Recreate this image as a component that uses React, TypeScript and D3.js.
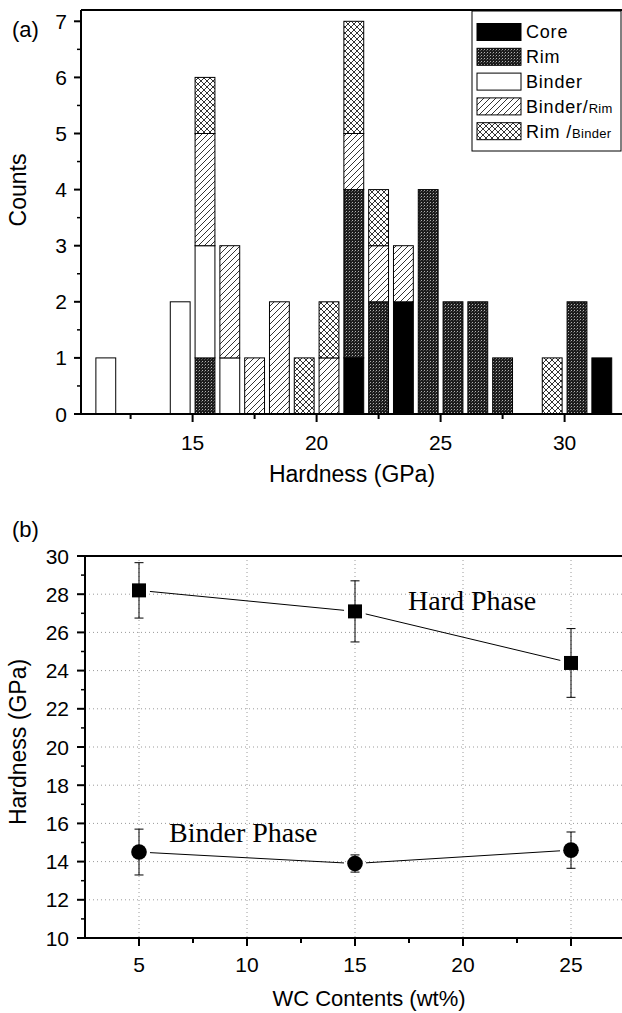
import * as React from "react";
import { scaleLinear, stack } from "d3";

// (a) histogram
const binCenters = [11.5, 14.5, 15.5, 16.5, 17.5, 18.5, 19.5, 20.5, 21.5, 22.5, 23.5, 24.5, 25.5, 26.5, 27.5, 29.5, 30.5, 31.5];
const coreCounts = [0, 0, 0, 0, 0, 0, 0, 0, 1, 0, 2, 0, 0, 0, 0, 0, 0, 1];
const rimCounts = [0, 0, 1, 0, 0, 0, 0, 0, 3, 2, 0, 4, 2, 2, 1, 0, 2, 0];
const binderCounts = [1, 2, 2, 1, 0, 0, 0, 0, 0, 0, 0, 0, 0, 0, 0, 0, 0, 0];
const binderRimCounts = [0, 0, 2, 2, 1, 2, 0, 1, 1, 1, 1, 0, 0, 0, 0, 0, 0, 0];
const rimBinderCounts = [0, 0, 1, 0, 0, 0, 1, 1, 2, 1, 0, 0, 0, 0, 0, 1, 0, 0];
const phaseKeys = ["core", "rim", "binder", "binderRim", "rimBinder"];
const countTicks = [0, 1, 2, 3, 4, 5, 6, 7];
const hardnessTicks = [15, 20, 25, 30];

// (b) hardness vs WC content
const wcContents = [5, 15, 25];
const hardPhase = [28.2, 27.1, 24.4];
const hardErr = [1.45, 1.6, 1.8];
const binderPhase = [14.5, 13.9, 14.6];
const binderErr = [1.2, 0.45, 0.95];
const hardnessTicksB = [10, 12, 14, 16, 18, 20, 22, 24, 26, 28, 30];
const wcTicks = [5, 10, 15, 20, 25];

const sans = "'Liberation Sans', Arial, sans-serif";
const serif = "'Liberation Serif', 'Times New Roman', serif";

const fills = {
    core: "#000",
    rim: "url(#pRim)",
    binder: "#fff",
    binderRim: "url(#pDiag)",
    rimBinder: "url(#pCross)"
};

function Histogram() {
    const x = scaleLinear().domain([10.5, 32.5]).range([81, 626.6]);
    const y = scaleLinear().domain([0, 7]).range([414, 21.3]);
    const rows = binCenters.map((c, i) => ({
        c,
        core: coreCounts[i],
        rim: rimCounts[i],
        binder: binderCounts[i],
        binderRim: binderRimCounts[i],
        rimBinder: rimBinderCounts[i]
    }));
    const layers = stack().keys(phaseKeys)(rows);
    const bw = x(0.8) - x(0);

    const minorY = [];
    for (let v = 0.5; v < 7.2; v += 1) minorY.push(v);
    const minorX = [12.5, 17.5, 22.5, 27.5];

    const legend = [
        { key: "core", label: "Core", sub: "" },
        { key: "rim", label: "Rim", sub: "" },
        { key: "binder", label: "Binder", sub: "" },
        { key: "binderRim", label: "Binder/", sub: "Rim" },
        { key: "rimBinder", label: "Rim /", sub: "Binder" }
    ];

    return (
        <g>
            {layers.map(layer => (
                <g key={layer.key} fill={fills[layer.key]} stroke="#000" strokeWidth={1}>
                    {layer.filter(d => d[1] > d[0]).map(d => (
                        <rect
                            key={d.data.c}
                            x={x(d.data.c) - bw / 2}
                            width={bw}
                            y={y(d[1])}
                            height={y(d[0]) - y(d[1])}
                        />
                    ))}
                </g>
            ))}
            {/* frame */}
            <line x1={81} x2={622} y1={10} y2={10} stroke="#000" strokeWidth={2} />
            <line x1={81} x2={81} y1={10} y2={415} stroke="#000" strokeWidth={2} />
            <line x1={74} x2={622} y1={414} y2={414} stroke="#000" strokeWidth={2} />
            {countTicks.map(t => (
                <g key={t}>
                    <line x1={74} x2={81} y1={y(t)} y2={y(t)} stroke="#000" strokeWidth={2} />
                    <text x={67} y={y(t)} dy="0.36em" textAnchor="end" fontSize={21} fontFamily={sans}>{t}</text>
                </g>
            ))}
            {minorY.map(t => (
                <line key={t} x1={77} x2={81} y1={y(t)} y2={y(t)} stroke="#000" strokeWidth={1.5} />
            ))}
            {hardnessTicks.map(t => (
                <g key={t}>
                    <line x1={x(t)} x2={x(t)} y1={414} y2={422} stroke="#000" strokeWidth={2} />
                    <text x={x(t)} y={450} textAnchor="middle" fontSize={21} fontFamily={sans}>{t}</text>
                </g>
            ))}
            {minorX.map(t => (
                <line key={t} x1={x(t)} x2={x(t)} y1={414} y2={419} stroke="#000" strokeWidth={2} />
            ))}
            <text x={352} y={482} textAnchor="middle" fontSize={23} fontFamily={sans}>Hardness (GPa)</text>
            <text transform="translate(26,190) rotate(-90)" textAnchor="middle" fontSize={23} fontFamily={sans}>Counts</text>
            <text x={12} y={37} fontSize={22} fontFamily={sans}>(a)</text>
            {/* legend */}
            <rect x={472} y={11} width={149} height={140} fill="#fff" stroke="#000" strokeWidth={1} />
            {legend.map((d, i) => {
                const cy = 32 + i * 24.8;
                return (
                    <g key={d.key}>
                        <rect x={477} y={cy - 8.5} width={44} height={17} fill={fills[d.key]} stroke="#000" strokeWidth={1} />
                        <text x={526} y={cy} dy="0.36em" fontSize={18} letterSpacing={0.8} fontFamily={sans}>
                            {d.label}
                            {d.sub && <tspan fontSize={13} letterSpacing={0.3}>{d.sub}</tspan>}
                        </text>
                    </g>
                );
            })}
        </g>
    );
}

function gapSegments(pts, gap) {
    const segs = [];
    for (let i = 0; i < pts.length - 1; i++) {
        const [x1, y1] = pts[i];
        const [x2, y2] = pts[i + 1];
        const dx = x2 - x1, dy = y2 - y1;
        const len = Math.sqrt(dx * dx + dy * dy);
        const ux = dx / len, uy = dy / len;
        segs.push([x1 + ux * gap, y1 + uy * gap, x2 - ux * gap, y2 - uy * gap]);
    }
    return segs;
}

function HardnessPlot() {
    const x = scaleLinear().domain([2.5, 27.5]).range([85, 625]);
    const y = scaleLinear().domain([10, 30]).range([938, 556]);
    const minorX = [7.5, 12.5, 17.5, 22.5];
    const minorY = [11, 13, 15, 17, 19, 21, 23, 25, 27, 29];

    const hardPts = wcContents.map((w, i) => [x(w), y(hardPhase[i])]);
    const binderPts = wcContents.map((w, i) => [x(w), y(binderPhase[i])]);

    const errBar = (w, v, e, k) => (
        <g key={k} stroke="#000" strokeWidth={1}>
            <line x1={x(w)} x2={x(w)} y1={y(v + e)} y2={y(v - e)} />
            <line x1={x(w) - 4.5} x2={x(w) + 4.5} y1={y(v + e)} y2={y(v + e)} />
            <line x1={x(w) - 4.5} x2={x(w) + 4.5} y1={y(v - e)} y2={y(v - e)} />
        </g>
    );

    return (
        <g>
            {/* grid */}
            {hardnessTicksB.filter(t => t > 10 && t < 30).map(t => (
                <line key={"gy" + t} x1={85} x2={622} y1={y(t)} y2={y(t)} stroke="#9a9a9a" strokeWidth={1} strokeDasharray="1,3" />
            ))}
            {wcTicks.map(t => (
                <line key={"gx" + t} x1={x(t)} x2={x(t)} y1={556} y2={938} stroke="#9a9a9a" strokeWidth={1} strokeDasharray="1,3" />
            ))}
            {/* frame */}
            <line x1={85} x2={622} y1={556} y2={556} stroke="#000" strokeWidth={2} />
            <line x1={85} x2={85} y1={556} y2={939} stroke="#000" strokeWidth={2} />
            <line x1={78} x2={622} y1={938} y2={938} stroke="#000" strokeWidth={2} />
            {hardnessTicksB.map(t => (
                <g key={t}>
                    <line x1={77} x2={85} y1={y(t)} y2={y(t)} stroke="#000" strokeWidth={2} />
                    <text x={69} y={y(t)} dy="0.36em" textAnchor="end" fontSize={21} fontFamily={sans}>{t}</text>
                </g>
            ))}
            {minorY.map(t => (
                <line key={t} x1={81} x2={85} y1={y(t)} y2={y(t)} stroke="#000" strokeWidth={1.5} />
            ))}
            {wcTicks.map(t => (
                <g key={t}>
                    <line x1={x(t)} x2={x(t)} y1={938} y2={946} stroke="#000" strokeWidth={2} />
                    <text x={x(t)} y={972} textAnchor="middle" fontSize={21} fontFamily={sans}>{t}</text>
                </g>
            ))}
            {minorX.map(t => (
                <line key={t} x1={x(t)} x2={x(t)} y1={938} y2={943} stroke="#000" strokeWidth={2} />
            ))}
            <text x={369} y={1006} textAnchor="middle" fontSize={22} fontFamily={sans}>WC Contents (wt%)</text>
            <text transform="translate(26,742) rotate(-90)" textAnchor="middle" fontSize={23} fontFamily={sans}>Hardness (GPa)</text>
            <text x={12} y={537} fontSize={22} fontFamily={sans}>(b)</text>

            {/* lines */}
            {gapSegments(hardPts, 11).map((s, i) => (
                <line key={"hl" + i} x1={s[0]} y1={s[1]} x2={s[2]} y2={s[3]} stroke="#000" strokeWidth={1} />
            ))}
            {gapSegments(binderPts, 11).map((s, i) => (
                <line key={"bl" + i} x1={s[0]} y1={s[1]} x2={s[2]} y2={s[3]} stroke="#000" strokeWidth={1} />
            ))}
            {/* error bars */}
            {wcContents.map((w, i) => errBar(w, hardPhase[i], hardErr[i], "he" + i))}
            {wcContents.map((w, i) => errBar(w, binderPhase[i], binderErr[i], "be" + i))}
            {/* markers */}
            {hardPts.map((p, i) => (
                <rect key={"hm" + i} x={p[0] - 7} y={p[1] - 7} width={14} height={14} fill="#000" />
            ))}
            {binderPts.map((p, i) => (
                <circle key={"bm" + i} cx={p[0]} cy={p[1]} r={7.8} fill="#000" />
            ))}
            <text x={408} y={610} fontSize={28} fontFamily={serif}>Hard Phase</text>
            <text x={169} y={842} fontSize={28} fontFamily={serif}>Binder Phase</text>
        </g>
    );
}

export default function App() {
    return (
        <div style={{ position: "absolute", left: 0, top: 0 }}>
            <svg width={622} height={1013} style={{ display: "block", background: "#fff" }}>
                <defs>
                    <pattern id="pRim" width={3} height={3} patternUnits="userSpaceOnUse">
                        <rect width={3} height={3} fill="#1c1c1c" />
                        <rect x={1} y={1} width={1} height={1} fill="#b0b0b0" />
                        <rect x={0} y={2} width={1} height={1} fill="#555" />
                    </pattern>
                    <pattern id="pDiag" width={6} height={6} patternUnits="userSpaceOnUse">
                        <rect width={6} height={6} fill="#fff" />
                        <path d="M-1,7 L7,-1 M-1,1 L1,-1 M5,7 L7,5" stroke="#000" strokeWidth={0.8} />
                    </pattern>
                    <pattern id="pCross" width={6} height={6} patternUnits="userSpaceOnUse">
                        <rect width={6} height={6} fill="#fff" />
                        <path d="M0,0 L6,6 M6,0 L0,6" stroke="#000" strokeWidth={0.8} />
                    </pattern>
                </defs>
                <Histogram />
                <HardnessPlot />
            </svg>
        </div>
    );
}
